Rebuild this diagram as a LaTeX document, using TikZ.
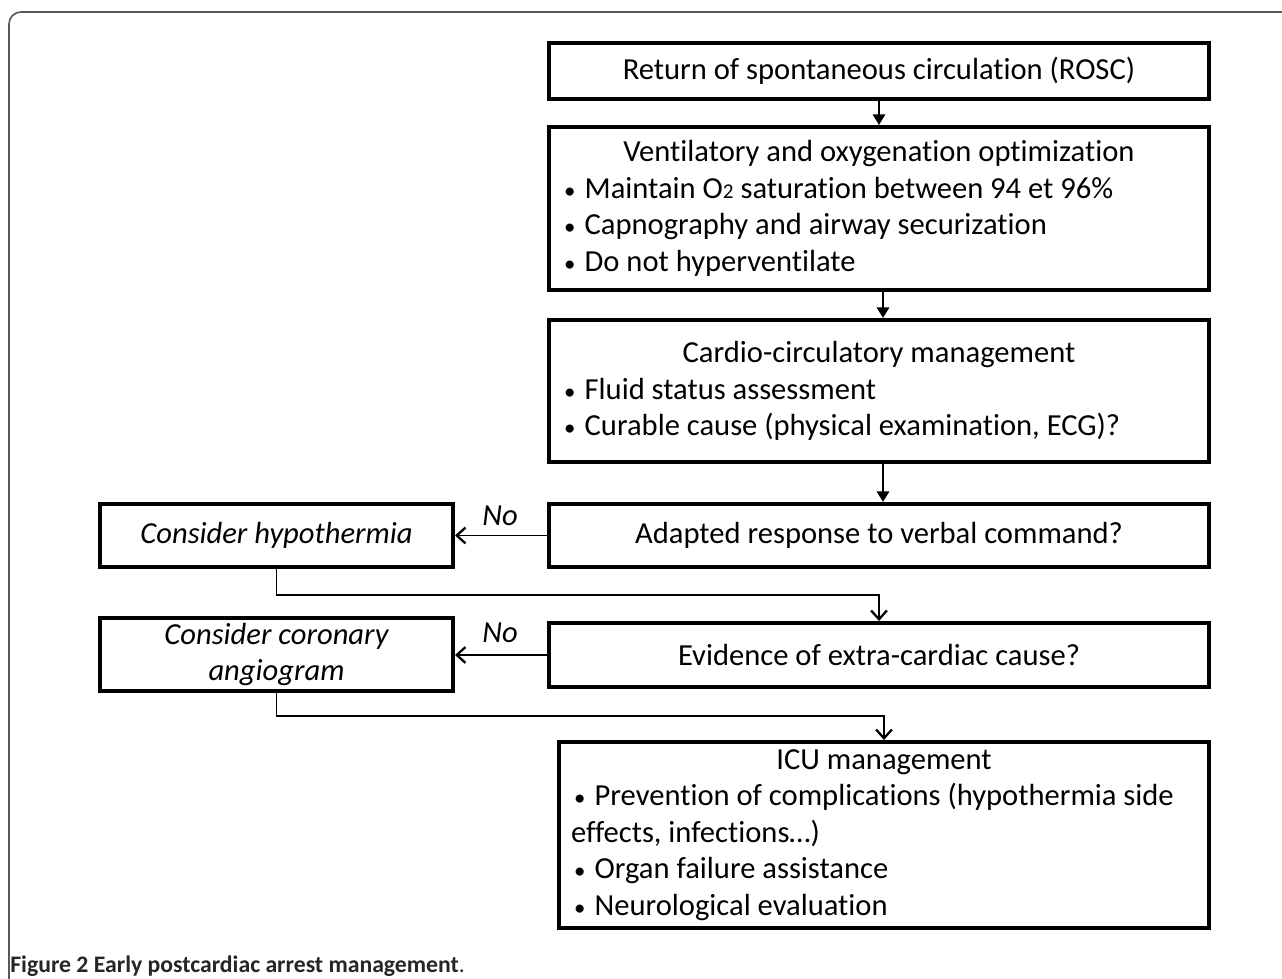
\documentclass[tikz,border=0pt]{standalone}
\usepackage{fontspec}
\setmainfont{Carlito}[Ligatures=NoCommon]
\usetikzlibrary{arrows.meta,positioning,calc}
\newcommand\boxfont{\fontsize{17.4pt}{20.8pt}\selectfont}
\newcommand\capfont{\fontsize{13.5pt}{15pt}\selectfont}
\newcommand\bul{\hspace{0.1em}{\fontsize{13pt}{13pt}\selectfont •}\hspace{0.3em}}
\tikzset{
  box/.style={draw, line width=2.3pt, rectangle, inner sep=0pt, align=center, font=\boxfont},
  listbox/.style={box, align=flush left, text width=12.72cm},
  alt/.style={box, font=\boxfont\itshape},
  nolabel/.style={font=\boxfont\itshape, inner sep=1pt},
  arr/.style={line width=1.1pt, -{Triangle[width=7pt,length=6pt]}},
  barb/.style={line width=1.1pt, -{Straight Barb[width=9pt,length=5pt,line width=1.3pt]}},
  frame/.style={draw=black!65, line width=0.9pt, rounded corners=0.24cm},
  caption/.style={font=\capfont, text=black!85, inner sep=0pt}
}
\begin{document}
\begin{tikzpicture}[x=0.02cm,y=-0.02cm]
\useasboundingbox (0,0) rectangle (1282,979);
% outer frame
\draw[frame] (9,979) -- (9,12) -- (1282,12);
% main column
\node[box, minimum width=13.2cm, minimum height=1.12cm] (rosc) at (879,71)
  {Return of spontaneous circulation (ROSC)};
\node[listbox, minimum width=13.2cm, minimum height=3.26cm] (vent) at (879,208.5)
  {\makebox[\linewidth][c]{Ventilatory and oxygenation optimization}\\
   \bul Maintain O{\fontsize{12pt}{12pt}\selectfont 2} saturation between 94 et 96\%\\
   \bul Capnography and airway securization\\
   \bul Do not hyperventilate};
\node[listbox, minimum width=13.2cm, minimum height=2.84cm] (cardio) at (879,391)
  {\makebox[\linewidth][c]{Cardio-circulatory management}\\
   \bul Fluid status assessment\\
   \bul Curable cause (physical examination, ECG)?};
\node[box, minimum width=13.2cm, minimum height=1.26cm] (adapt) at (879,535.5)
  {Adapted response to verbal command?};
\node[box, minimum width=13.2cm, minimum height=1.28cm] (extra) at (879,655)
  {Evidence of extra-cardiac cause?};
\node[listbox, text width=12.52cm, minimum width=13cm, minimum height=3.72cm] (icu) at (884,835)
  {\makebox[\linewidth][c]{ICU management}\\
   \bul Prevention of complications (hypothermia side\\
   effects, infections…)\\
   \bul Organ failure assistance\\
   \bul Neurological evaluation};
% side boxes
\node[alt, minimum width=7.06cm, minimum height=1.26cm] (hypo) at (276.5,535.5)
  {Consider hypothermia};
\node[alt, minimum width=7.06cm, minimum height=1.46cm] (coro) at (276.5,654.5)
  {Consider coronary\\angiogram};
\node[nolabel] (no1) at (500,516) {No};
\node[nolabel] (no2) at (500,633) {No};
% connectors
\draw[arr] (rosc) -- (vent);
\draw[arr] ([xshift=0.08cm]vent.south) -- ([xshift=0.08cm]cardio.north);
\draw[arr] ([xshift=0.08cm]cardio.south) -- ([xshift=0.08cm]adapt.north);
\draw[barb] (adapt.west) -- (hypo.east);
\draw[barb] (extra.west) -- (extra.west -| coro.east);
\draw[barb] (hypo.south) -- (276.5,595) -| (extra.north);
\draw[barb] (coro.south) -- (276.5,716) -| (icu.north);
% caption
\node[caption, anchor=base west] (cap) at (10,972)
  {\textbf{Figure 2 Early postcardiac arrest management}.};
\end{tikzpicture}
\end{document}
